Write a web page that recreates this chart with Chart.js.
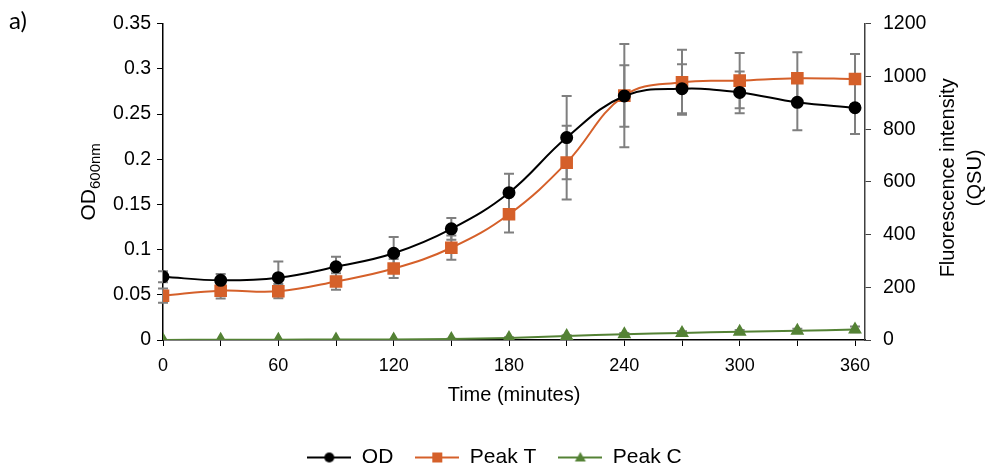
<!DOCTYPE html>
<html>
<head>
<meta charset="utf-8">
<script src="https://cdn.jsdelivr.net/npm/chart.js@4"></script>
<style>
  html, body { margin: 0; padding: 0; background: #fff; }
  #wrap { width: 989px; height: 470px; }
</style>
</head>
<body>
<div id="wrap"><canvas id="grafico" width="989" height="470"></canvas></div>
<script>
// time points (minutes)
const tempos = [0, 30, 60, 90, 120, 150, 180, 210, 240, 270, 300, 330, 360];

// OD600nm (left axis)
const od = [0.070, 0.066, 0.069, 0.081, 0.096, 0.123, 0.163, 0.224, 0.270, 0.278, 0.274, 0.263, 0.257];
const odErro = [0.006, 0.007, 0.018, 0.011, 0.018, 0.012, 0.021, 0.046, 0.034, 0.027, 0.023, 0.031, 0.029];

// fluorescence (right axis, QSU)
const picoT = [168, 187, 185, 222, 271, 350, 477, 673, 927, 978, 984, 993, 990];
const picoTErro = [27, 30, 27, 31, 36, 46, 69, 140, 196, 123, 105, 99, 95];
const picoC = [0, 1, 1, 2, 2, 4, 8, 15, 22, 27, 31, 35, 40];
const picoCErro = [0, 0, 0, 0, 0, 1, 2, 3, 5, 6, 7, 8, 11];

const xTicks = [0, 60, 120, 180, 240, 300, 360];
const fonte = "'Liberation Sans', Arial, sans-serif";

const CHART_LEFT = 163, CHART_RIGHT = 865;

function pontos(valores) {
  return tempos.map((t, i) => ({ x: t, y: valores[i] }));
}

// little line+marker image for the legend
function iconeLegenda(cor, estilo) {
  const c = document.createElement("canvas");
  c.width = 44; c.height = 14;
  const g = c.getContext("2d");
  g.strokeStyle = cor; g.lineWidth = 2;
  g.beginPath(); g.moveTo(0, 7); g.lineTo(44, 7); g.stroke();
  g.fillStyle = cor;
  g.beginPath();
  if (estilo === "circle") g.arc(22, 7, 5, 0, Math.PI * 2);
  else if (estilo === "rect") g.rect(17, 2, 10, 10);
  else { g.moveTo(22, 1.5); g.lineTo(27.5, 11); g.lineTo(16.5, 11); g.closePath(); }
  g.fill();
  return c;
}

const errorBars = {
  id: "errorBars",
  beforeDatasetsDraw(chart) {
    const ctx = chart.ctx;
    ctx.save();
    ctx.strokeStyle = "#7f7f7f";
    ctx.lineWidth = 2;
    chart.data.datasets.forEach(ds => {
      const ys = chart.scales[ds.yAxisID];
      const xs = chart.scales.x;
      ds.data.forEach((p, i) => {
        const e = ds.erros[i];
        if (!e) return;
        const px = xs.getPixelForValue(p.x);
        const top = ys.getPixelForValue(p.y + e);
        const bot = ys.getPixelForValue(p.y - e);
        ctx.beginPath();
        ctx.moveTo(px, top); ctx.lineTo(px, bot);
        ctx.moveTo(px - 5, top); ctx.lineTo(px + 5, top);
        ctx.moveTo(px - 5, bot); ctx.lineTo(px + 5, bot);
        ctx.stroke();
      });
    });
    ctx.restore();
  }
};

const titulos = {
  id: "titulos",
  afterDraw(chart) {
    const ctx = chart.ctx;
    const area = chart.chartArea;
    const meio = (area.top + area.bottom) / 2;
    ctx.save();
    ctx.fillStyle = "#000";

    // panel tag
    ctx.font = "24px Lato, " + fonte;
    ctx.textBaseline = "alphabetic";
    ctx.fillText("a)", 9, 29);

    // left title OD600nm
    ctx.save();
    ctx.translate(95, meio);
    ctx.rotate(-Math.PI / 2);
    ctx.font = "21px " + fonte;
    const w1 = ctx.measureText("OD").width;
    ctx.font = "15px " + fonte;
    const w2 = ctx.measureText("600nm").width;
    const ini = -(w1 + w2) / 2;
    ctx.font = "21px " + fonte;
    ctx.fillText("OD", ini, 0);
    ctx.font = "15px " + fonte;
    ctx.fillText("600nm", ini + w1, 5);
    ctx.restore();

    // right title
    ctx.save();
    ctx.translate(948, meio - 4);
    ctx.rotate(-Math.PI / 2);
    ctx.font = "20px " + fonte;
    ctx.textAlign = "center";
    ctx.textBaseline = "middle";
    ctx.fillText("Fluorescence intensity", 0, 0);
    ctx.fillText("(QSU)", 0, 27);
    ctx.restore();

    // x title
    ctx.font = "20px " + fonte;
    ctx.textAlign = "center";
    ctx.textBaseline = "middle";
    ctx.fillText("Time (minutes)", (area.left + area.right) / 2, 395);
    ctx.restore();
  }
};

const ctx = document.getElementById("grafico").getContext("2d");

new Chart(ctx, {
  type: "line",
  data: {
    datasets: [
      {
        label: "OD",
        data: pontos(od),
        erros: odErro,
        yAxisID: "y",
        borderColor: "#000000",
        backgroundColor: "#000000",
        borderWidth: 2,
        pointStyle: "circle",
        pointRadius: 5.5,
        tension: 0.4,
        legendIcon: iconeLegenda("#000000", "circle")
      },
      {
        label: "Peak T",
        data: pontos(picoT),
        erros: picoTErro,
        yAxisID: "y1",
        borderColor: "#d5602a",
        backgroundColor: "#d5602a",
        borderWidth: 2,
        pointStyle: "rect",
        pointRadius: 7.5,
        tension: 0.4,
        legendIcon: iconeLegenda("#d5602a", "rect")
      },
      {
        label: "Peak C",
        data: pontos(picoC),
        erros: picoCErro,
        yAxisID: "y1",
        borderColor: "#548235",
        backgroundColor: "#548235",
        borderWidth: 2,
        pointStyle: "triangle",
        pointRadius: 6,
        tension: 0.4,
        legendIcon: iconeLegenda("#548235", "triangle")
      }
    ]
  },
  options: {
    responsive: false,
    animation: false,
    layout: { padding: { top: 18, left: 0, right: 0, bottom: -8 } },
    plugins: {
      tooltip: { enabled: false },
      legend: {
        position: "bottom",
        labels: {
          usePointStyle: true,
          pointStyleWidth: 44,
          padding: 22,
          color: "#000",
          font: { family: fonte, size: 21 },
          generateLabels(chart) {
            return chart.data.datasets.map((ds, i) => ({
              text: ds.label,
              pointStyle: ds.legendIcon,
              fillStyle: ds.borderColor,
              strokeStyle: ds.borderColor,
              lineWidth: 0,
              hidden: false,
              datasetIndex: i,
              fontColor: "#000"
            }));
          }
        }
      }
    },
    scales: {
      x: {
        type: "linear",
        min: 0,
        max: 365.2,
        afterBuildTicks(scale) {
          scale.ticks = tempos.map(t => ({ value: t }));
        },
        afterFit(scale) { scale.height = 85; },
        border: { display: true, color: "#000", width: 1.5 },
        grid: { drawOnChartArea: false, drawTicks: true, tickLength: 6, color: "#000" },
        ticks: {
          color: "#000",
          font: { family: fonte, size: 18 },
          padding: 9,
          maxRotation: 0,
          autoSkip: false,
          callback: v => xTicks.includes(v) ? String(v) : ""
        }
      },
      y: {
        position: "left",
        min: 0,
        max: 0.35,
        afterBuildTicks(scale) {
          scale.ticks = [0, 0.05, 0.1, 0.15, 0.2, 0.25, 0.3, 0.35].map(v => ({ value: v }));
        },
        afterFit(scale) { scale.width = CHART_LEFT; },
        border: { display: true, color: "#000", width: 1.5 },
        grid: { drawOnChartArea: false, drawTicks: true, tickLength: 6, color: "#000" },
        ticks: {
          color: "#000",
          font: { family: fonte, size: 19.5 },
          padding: 6,
          callback: v => String(Number(v.toFixed(2)))
        }
      },
      y1: {
        position: "right",
        min: 0,
        max: 1200,
        afterBuildTicks(scale) {
          scale.ticks = [0, 200, 400, 600, 800, 1000, 1200].map(v => ({ value: v }));
        },
        afterFit(scale) { scale.width = 989 - CHART_RIGHT; },
        border: { display: true, color: "#404040", width: 1.5 },
        grid: { drawOnChartArea: false, drawTicks: true, tickLength: 6, color: "#404040" },
        ticks: {
          color: "#000",
          font: { family: fonte, size: 19.5 },
          padding: 12,
          callback: v => String(v)
        }
      }
    }
  },
  plugins: [errorBars, titulos]
});
</script>
</body>
</html>
